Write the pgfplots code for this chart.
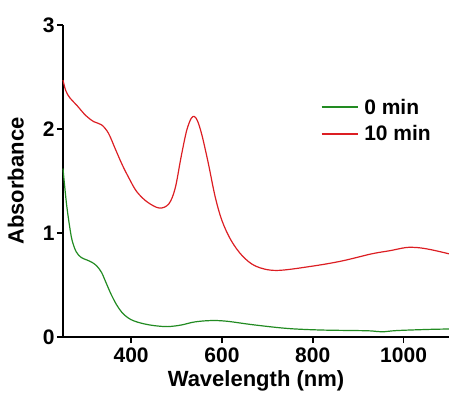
\documentclass[border=0pt]{standalone}
\usepackage{pgfplots}
\pgfplotsset{compat=1.18}
\usepackage{fontspec}
\setmainfont{Liberation Sans}
\definecolor{cgreen}{RGB}{34,139,34}
\definecolor{cred}{RGB}{220,30,35}
\begin{document}
\begin{tikzpicture}
\begin{axis}[
  scale only axis, width=386pt, height=312pt,
  xmin=250, xmax=1100, ymin=0, ymax=3,
  axis x line=bottom, axis y line=left,
  axis line style={-, line width=1.8pt},
  xtick={400,600,800,1000}, ytick={0,1,2,3},
  tick align=outside, major tick length=6pt,
  tick style={line width=1.8pt, black},
  minor tick num=0,
  /pgf/number format/assume math mode=true,
  /pgf/number format/1000 sep={},
  tick label style={font=\fontsize{21}{21}\selectfont\bfseries},
  xticklabel style={yshift=-1pt},
  yticklabel style={xshift=1pt},
  label style={font=\fontsize{22}{22}\selectfont\bfseries},
  xlabel={Wavelength (nm)},
  ylabel={Absorbance},
  xlabel style={yshift=-1pt},
  ylabel style={yshift=12pt},
  clip=false,
  legend cell align=left,
  legend style={draw=none, fill=none, at={(0.66,0.777)}, anchor=north west,
    font=\fontsize{21}{21}\selectfont\bfseries, row sep=6pt, column sep=4pt},
  legend image code/.code={\draw[#1, line width=1.3pt] (-5pt,0pt) -- (31pt,0pt);},
]
\addplot[cgreen, line width=1.2pt, smooth, tension=0.55] coordinates {
(250,1.62)(253,1.48)(258,1.27)(264,1.08)(270,0.93)(279,0.82)(290,0.765)(303,0.74)
(315,0.715)(325,0.68)(335,0.62)(345,0.52)(356,0.41)(368,0.31)(380,0.235)(393,0.185)
(406,0.155)(425,0.13)(450,0.11)(480,0.10)(510,0.115)(540,0.145)(575,0.158)
(610,0.152)(670,0.117)(745,0.082)(820,0.067)(920,0.06)(952,0.05)(985,0.062)(1055,0.073)(1100,0.077)
};
\addlegendentry{0 min}
\addplot[cred, line width=1.2pt, smooth, tension=0.55] coordinates {
(250,2.47)(256,2.37)(265,2.30)(280,2.23)(300,2.13)(318,2.07)(335,2.04)(350,1.96)
(365,1.81)(380,1.66)(395,1.53)(412,1.40)(435,1.30)(462,1.24)(483,1.28)(497,1.43)
(510,1.73)(522,1.98)(532,2.10)(539,2.12)(546,2.08)(556,1.94)(570,1.67)(585,1.35)
(600,1.12)(620,0.93)(645,0.78)(675,0.68)(720,0.64)(797,0.68)(863,0.73)(930,0.80)
(970,0.83)(1005,0.86)(1030,0.86)(1060,0.84)(1100,0.80)
};
\addlegendentry{10 min}
\end{axis}
\pgfresetboundingbox
\path (-63pt,-55pt) rectangle (386pt,337pt);
\end{tikzpicture}
\end{document}
